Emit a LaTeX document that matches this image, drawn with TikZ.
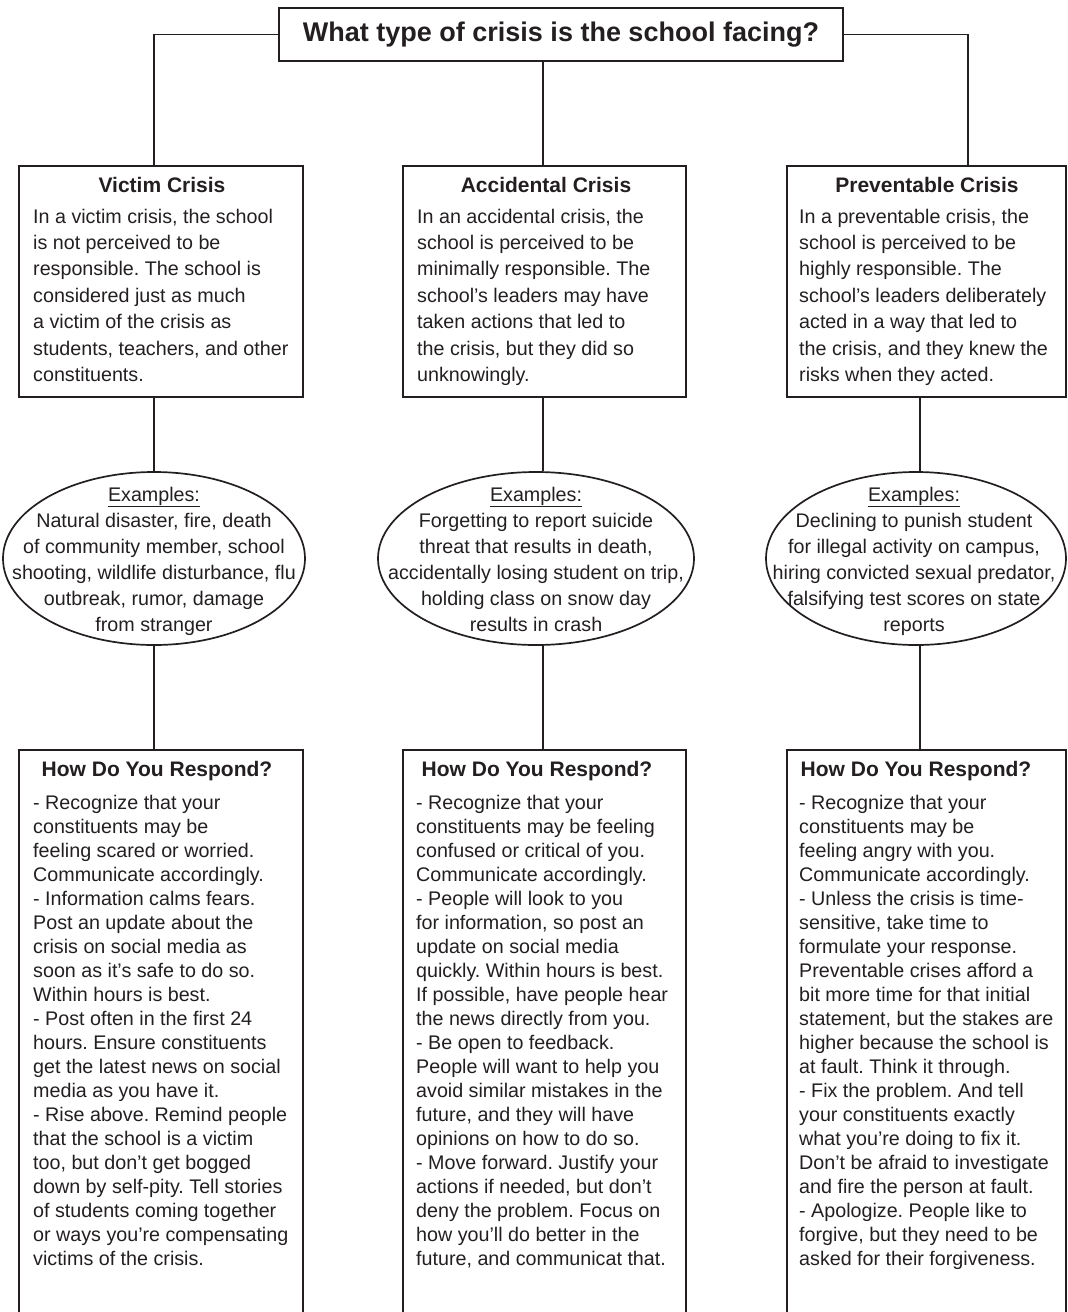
\documentclass[tikz,border=0pt]{standalone}
\usepackage{fontspec}
\setmainfont{Liberation Sans}
\usetikzlibrary{shapes.geometric}
\definecolor{ink}{RGB}{35,31,32}
\frenchspacing
\begin{document}
\begin{tikzpicture}[x=1pt,y=-1pt,
  box/.style={draw=ink, line width=1.9pt, rectangle, inner sep=0pt},
  oval/.style={draw=ink, line width=1.7pt, ellipse, inner sep=0pt},
  link/.style={draw=ink, line width=1.9pt},
  hd/.style={inner sep=0pt, anchor=base, text=ink, font=\fontsize{21}{25}\selectfont\bfseries},
  topbody/.style={inner sep=0pt, anchor=base west, text=ink, font=\fontsize{19.7}{26.4}\selectfont},
  botbody/.style={inner sep=0pt, anchor=base west, text=ink, font=\fontsize{19.7}{24.05}\selectfont},
  extext/.style={inner sep=0pt, anchor=base, text=ink, font=\fontsize{19.7}{26}\selectfont}
  ]
\useasboundingbox (0,0) rectangle (1068,1312);
\clip (0,0) rectangle (1068,1312);

% title
\node[box, minimum width=564pt, minimum height=53pt, text=ink,
      font=\fontsize{27}{30}\selectfont\bfseries] (title) at (561,34.5)
      {What type of crisis is the school facing?};

% column coordinates
\coordinate (acol) at (543,0);
\coordinate (ptop) at (968,0);
\coordinate (pcol) at (920,0);

% top boxes
\node[box, minimum width=284pt, minimum height=231pt] (vbox) at (161,281.5) {};
\node[box, minimum width=283pt, minimum height=231pt] (abox) at (544.5,281.5) {};
\node[box, minimum width=279pt, minimum height=231pt] (pbox) at (926.5,281.5) {};

% ellipses
\node[oval, minimum width=302pt, minimum height=173pt] (vex) at (154,558.5) {};
\node[oval, minimum width=316pt, minimum height=173pt] (aex) at (536,558.5) {};
\node[oval, minimum width=300pt, minimum height=173pt] (pex) at (916,558.5) {};

% bottom boxes
\node[box, minimum width=284pt, minimum height=580pt] (vresp) at (161,1040) {};
\node[box, minimum width=283pt, minimum height=580pt] (aresp) at (544.5,1040) {};
\node[box, minimum width=279pt, minimum height=580pt] (presp) at (926.5,1040) {};

% connectors
\draw[link] (title.west) -| (vbox.north -| vex.north);
\draw[link] (title.south -| acol) -- (abox.north -| acol);
\draw[link] (title.east) -| (pbox.north -| ptop);
\draw[link] (vbox.south -| vex.north) -- (vex.north);
\draw[link] (abox.south -| acol) -- (aex.north -| acol);
\draw[link] (pbox.south -| pcol) -- (pex.north -| pcol);
\draw[link] (vex.south) -- (vresp.north -| vex.south);
\draw[link] (aex.south -| acol) -- (aresp.north -| acol);
\draw[link] (pex.south -| pcol) -- (presp.north -| pcol);

% top box texts
\node[hd] (vhd) at (162,192) {Victim Crisis};
\node[hd] (ahd) at (546,192) {Accidental Crisis};
\node[hd] (phd) at (927,192) {Preventable Crisis};

\node[topbody] (vtx) at (33,223) {\parbox[t]{400pt}{In a victim crisis, the school\\
is not perceived to be\\
responsible. The school is\\
considered just as much\\
a victim of the crisis as\\
students, teachers, and other\\
constituents.}};
\node[topbody] (atx) at (417,223) {\parbox[t]{400pt}{In an accidental crisis, the\\
school is perceived to be\\
minimally responsible. The\\
school’s leaders may have\\
taken actions that led to\\
the crisis, but they did so\\
unknowingly.}};
\node[topbody] (ptx) at (799,223) {\parbox[t]{400pt}{In a preventable crisis, the\\
school is perceived to be\\
highly responsible. The\\
school’s leaders deliberately\\
acted in a way that led to\\
the crisis, and they knew the\\
risks when they acted.}};

% ellipse texts
\node[extext] (vext) at (154,501) {\parbox[t]{400pt}{\centering \underline{Examples:}\\
Natural disaster, fire, death\\
of community member, school\\
shooting, wildlife disturbance, flu\\
outbreak, rumor, damage\\
from stranger}};
\node[extext] (aext) at (536,501) {\parbox[t]{400pt}{\centering \underline{Examples:}\\
Forgetting to report suicide\\
threat that results in death,\\
accidentally losing student on trip,\\
holding class on snow day\\
results in crash}};
\node[extext] (pext) at (914,501) {\parbox[t]{400pt}{\centering \underline{Examples:}\\
Declining to punish student\\
for illegal activity on campus,\\
hiring convicted sexual predator,\\
falsifying test scores on state\\
reports}};

% bottom texts
\node[hd] (vrhd) at (157,776) {How Do You Respond?};
\node[hd] (arhd) at (537,776) {How Do You Respond?};
\node[hd] (prhd) at (916,776) {How Do You Respond?};

\node[botbody] (vrtx) at (33,809) {\parbox[t]{400pt}{- Recognize that your\\
constituents may be\\
feeling scared or worried.\\
Communicate accordingly.\\
- Information calms fears.\\
Post an update about the\\
crisis on social media as\\
soon as it’s safe to do so.\\
Within hours is best.\\
- Post often in the first 24\\
hours. Ensure constituents\\
get the latest news on social\\
media as you have it.\\
- Rise above. Remind people\\
that the school is a victim\\
too, but don’t get bogged\\
down by self-pity. Tell stories\\
of students coming together\\
or ways you’re compensating\\
victims of the crisis.}};
\node[botbody] (artx) at (416,809) {\parbox[t]{400pt}{- Recognize that your\\
constituents may be feeling\\
confused or critical of you.\\
Communicate accordingly.\\
- People will look to you\\
for information, so post an\\
update on social media\\
quickly. Within hours is best.\\
If possible, have people hear\\
the news directly from you.\\
- Be open to feedback.\\
People will want to help you\\
avoid similar mistakes in the\\
future, and they will have\\
opinions on how to do so.\\
- Move forward. Justify your\\
actions if needed, but don’t\\
deny the problem. Focus on\\
how you’ll do better in the\\
future, and communicat that.}};
\node[botbody] (prtx) at (799,809) {\parbox[t]{400pt}{- Recognize that your\\
constituents may be\\
feeling angry with you.\\
Communicate accordingly.\\
- Unless the crisis is time-\\
sensitive, take time to\\
formulate your response.\\
Preventable crises afford a\\
bit more time for that initial\\
statement, but the stakes are\\
higher because the school is\\
at fault. Think it through.\\
- Fix the problem. And tell\\
your constituents exactly\\
what you’re doing to fix it.\\
Don’t be afraid to investigate\\
and fire the person at fault.\\
- Apologize. People like to\\
forgive, but they need to be\\
asked for their forgiveness.}};
\end{tikzpicture}
\end{document}
